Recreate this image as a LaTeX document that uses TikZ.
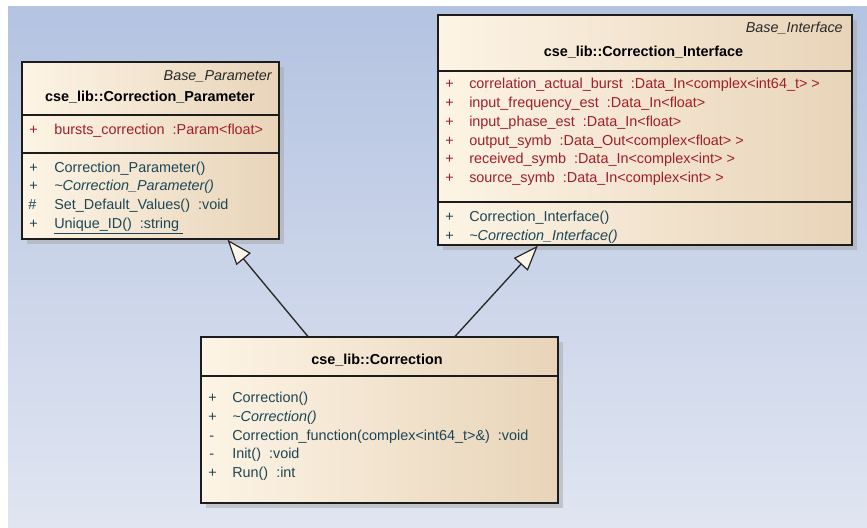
\documentclass[tikz,border=0pt]{standalone}
\usepackage{fontspec}
\setmainfont{Liberation Sans}
\usetikzlibrary{fit,shadows,arrows.meta,calc}

\definecolor{bgtop}{RGB}{180,195,225}
\definecolor{bgbot}{RGB}{224,229,241}
\definecolor{boxlight}{RGB}{253,244,229}
\definecolor{boxmid}{RGB}{249,237,219}
\definecolor{boxdark}{RGB}{232,212,185}
\definecolor{attrred}{RGB}{160,30,40}
\definecolor{methteal}{RGB}{28,70,86}
\definecolor{edgeblack}{RGB}{28,28,28}
\definecolor{stereogray}{RGB}{40,40,40}
\definecolor{tipcream}{RGB}{252,245,232}

\begin{document}
\begin{tikzpicture}[x=0.75pt,y=-0.75pt,
  font=\fontsize{10.8}{13}\selectfont,
  classbox/.style={draw=edgeblack, line width=1pt, inner sep=0pt,
    left color=boxlight, middle color=boxmid, right color=boxdark,
    drop shadow={shadow xshift=3.5pt, shadow yshift=-3.5pt, fill=black!35, opacity=0.5}},
  divider/.style={draw=edgeblack, line width=1pt},
  stereo/.style={anchor=base east, inner sep=0pt, text=stereogray, font=\fontsize{10.8}{13}\selectfont\itshape},
  classname/.style={anchor=base, inner sep=0pt, text=black, font=\fontsize{10.8}{13}\selectfont\bfseries},
  attr/.style={anchor=base west, inner sep=0pt, text=attrred},
  meth/.style={anchor=base west, inner sep=0pt, text=methteal},
  gen/.style={draw=edgeblack!95, line width=1pt,
    -{Triangle[length=19pt, width=14pt, fill=tipcream, line width=0.9pt]}}
]
  % page and background
  \useasboundingbox (0,0) rectangle (867,528);
  \fill[white] (0,0) rectangle (867,528);
  \shade[top color=bgtop, bottom color=bgbot] (8,7) rectangle (867,528);

  % ---- cse_lib::Correction_Parameter ----
  \node[classbox, fit={(22,62) (279,239)}] (param) {};
  \draw[divider] (22,115) -- (279,115);
  \draw[divider] (22,153) -- (279,153);
  \node[stereo] (param-st) at (272,80) {Base\_Parameter};
  \node[classname] (param-name) at (150,102) {cse\_lib::Correction\_Parameter};
  \node[attr] (param-a1v) at (29,134) {+};
  \node[attr] (param-a1) at (54,134) {bursts\_correction~~:Param<float>};
  \node[meth] (param-m1v) at (29,172) {+};
  \node[meth] (param-m1) at (54,172) {Correction\_Parameter()};
  \node[meth] (param-m2v) at (29,190.7) {+};
  \node[meth] (param-m2) at (54,190.7) {\itshape\textasciitilde Correction\_Parameter()};
  \node[meth] (param-m3v) at (28,209.4) {\#};
  \node[meth] (param-m3) at (54,209.4) {Set\_Default\_Values()~~:void};
  \node[meth] (param-m4v) at (29,228.1) {+};
  \node[meth] (param-m4) at (54,228.1) {\color{methteal}\underline{Unique\_ID()~~:string~}};

  % ---- cse_lib::Correction_Interface ----
  \node[classbox, fit={(438,15) (852,245)}] (iface) {};
  \draw[divider] (438,71) -- (852,71);
  \draw[divider] (438,202) -- (852,202);
  \node[stereo] (iface-st) at (843,33) {Base\_Interface};
  \node[classname] (iface-name) at (643.5,57) {cse\_lib::Correction\_Interface};
  \node[attr] (iface-a1v) at (445,89) {+};
  \node[attr] (iface-a1) at (469,89) {correlation\_actual\_burst~~:Data\_In<complex<int64\_t> >};
  \node[attr] (iface-a2v) at (445,107.7) {+};
  \node[attr] (iface-a2) at (469,107.7) {input\_frequency\_est~~:Data\_In<float>};
  \node[attr] (iface-a3v) at (445,126.4) {+};
  \node[attr] (iface-a3) at (469,126.4) {input\_phase\_est~~:Data\_In<float>};
  \node[attr] (iface-a4v) at (445,145.1) {+};
  \node[attr] (iface-a4) at (469,145.1) {output\_symb~~:Data\_Out<complex<float> >};
  \node[attr] (iface-a5v) at (445,163.8) {+};
  \node[attr] (iface-a5) at (469,163.8) {received\_symb~~:Data\_In<complex<int> >};
  \node[attr] (iface-a6v) at (445,182.5) {+};
  \node[attr] (iface-a6) at (469,182.5) {source\_symb~~:Data\_In<complex<int> >};
  \node[meth] (iface-m1v) at (445,221.7) {+};
  \node[meth] (iface-m1) at (469,221.7) {Correction\_Interface()};
  \node[meth] (iface-m2v) at (445,240.4) {+};
  \node[meth] (iface-m2) at (469,240.4) {\itshape\textasciitilde Correction\_Interface()};

  % ---- cse_lib::Correction ----
  \node[classbox, fit={(201,337) (558,503)}] (corr) {};
  \draw[divider] (201,376) -- (558,376);
  \node[classname] (corr-name) at (377,364) {cse\_lib::Correction};
  \node[meth] (corr-m1v) at (208,402.7) {+};
  \node[meth] (corr-m1) at (232,402.7) {Correction()};
  \node[meth] (corr-m2v) at (208,421.4) {+};
  \node[meth] (corr-m2) at (232,421.4) {\itshape\textasciitilde Correction()};
  \node[meth] (corr-m3v) at (209,440.1) {-};
  \node[meth] (corr-m3) at (232,440.1) {Correction\_function(complex<int64\_t>\&)~~:void};
  \node[meth] (corr-m4v) at (209,458.8) {-};
  \node[meth] (corr-m4) at (232,458.8) {Init()~~:void};
  \node[meth] (corr-m5v) at (208,477.5) {+};
  \node[meth] (corr-m5) at (232,477.5) {Run()~~:int};

  % ---- generalizations ----
  \draw[gen] ($(corr.north west)!0.30!(corr.north east)$) -- ($(param.south west)!0.798!(param.south east)$);
  \draw[gen] ($(corr.north west)!0.711!(corr.north east)$) -- ($(iface.south west)!0.242!(iface.south east)$);
\end{tikzpicture}
\end{document}
